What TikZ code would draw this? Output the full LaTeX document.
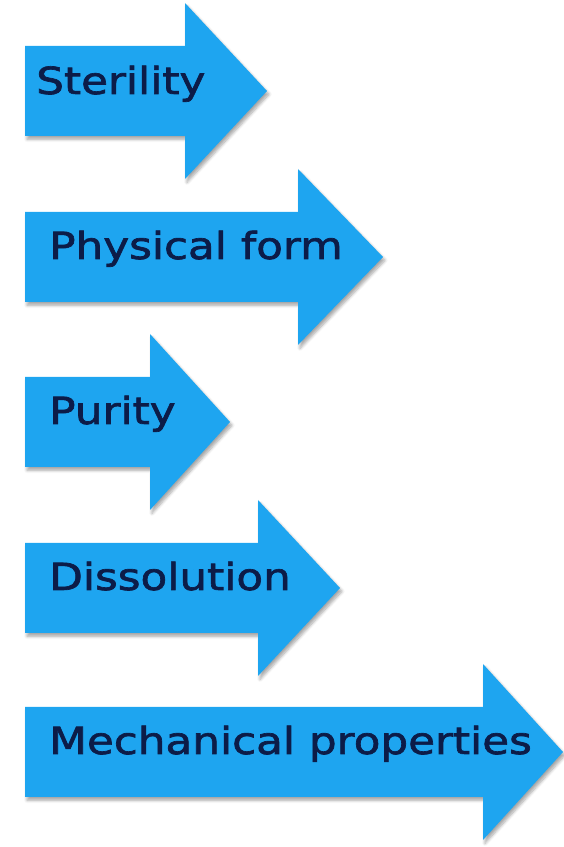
\documentclass[tikz,border=0pt]{standalone}
\usepackage{fontspec}
\setmainfont{DejaVu Sans}
\newfontfamily\labelfont{DejaVu Sans}[FakeStretch=1.17, FakeBold=1.8]
\usepackage{tikz}
\usetikzlibrary{shadows.blur}

\definecolor{arrowblue}{RGB}{30,165,240}
\definecolor{textnavy}{RGB}{12,28,72}

\begin{document}
\begin{tikzpicture}[x=0.75pt,y=0.75pt,
	blockarrow/.style={fill=arrowblue, blur shadow={shadow xshift=1.5pt, shadow yshift=-2.5pt, shadow opacity=35, shadow blur steps=6}},
	arrowtext/.style={anchor=base west, inner sep=0pt, text=textnavy, font=\labelfont\fontsize{28}{32}\selectfont}]
	
	\useasboundingbox (0,0) rectangle (564,847);
	
	% the five block arrows
	\fill[blockarrow] (25,711)--(185,711)--(185,668)--(267,756)--(185,844)--(185,801)--(25,801)--cycle;
	\fill[blockarrow] (25,545)--(298,545)--(298,502)--(383,590)--(298,678)--(298,635)--(25,635)--cycle;
	\fill[blockarrow] (25,380)--(150,380)--(150,337)--(230,425)--(150,513)--(150,470)--(25,470)--cycle;
	\fill[blockarrow] (25,214)--(258,214)--(258,171)--(340,259)--(258,347)--(258,304)--(25,304)--cycle;
	\fill[blockarrow] (25,50)--(483,50)--(483,7)--(563,95)--(483,183)--(483,140)--(25,140)--cycle;
	
	% labels
	\node[arrowtext] (sterility) at (36,753) {Sterility};
	\node[arrowtext] (physical) at (49,588) {Physical form};
	\node[arrowtext] (purity) at (49,423) {Purity};
	\node[arrowtext] (dissolution) at (49,257) {Dissolution};
	\node[arrowtext] (mechanical) at (49,93) {Mechanical properties};
\end{tikzpicture}
\end{document}
